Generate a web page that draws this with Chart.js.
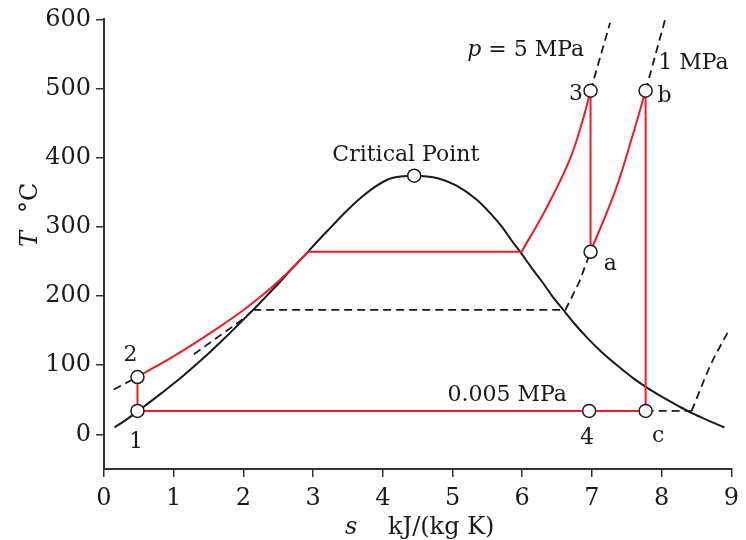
<!DOCTYPE html>
<html>
<head>
<meta charset="utf-8">
<script src="https://cdn.jsdelivr.net/npm/chart.js@4/dist/chart.umd.min.js"></script>
<style>
  body { margin: 0; background: #fff; }
  canvas { display: block; }
</style>
</head>
<body>
<canvas id="ts-chart" width="746" height="540"></canvas>
<script>
// axis ticks
const sTicks = [0, 1, 2, 3, 4, 5, 6, 7, 8, 9];
const tTicks = [0, 100, 200, 300, 400, 500, 600];

// saturation dome [s, T]
const domeLiquid = [[0.15,10],[0.30,20],[0.44,30],[0.57,40],[0.83,60],[1.08,80],[1.31,100],[1.53,120],[1.74,140],[1.94,160],[2.14,180],[2.33,200],[2.52,220],[2.70,240],[2.89,260],[3.07,280],[3.26,300],[3.45,320],[3.66,340],[3.92,360],[4.11,370]];
const critical = [4.45, 374];
const domeVapour = [[4.80,370],[5.05,360],[5.34,340],[5.54,320],[5.71,300],[5.85,280],[6.00,260],[6.14,240],[6.29,220],[6.43,200],[6.59,180],[6.75,160],[6.93,140],[7.13,120],[7.36,100],[7.61,80],[7.91,60],[8.26,40],[8.45,30],[8.67,20],[8.90,10]];

// cycle (red)
const pumpLine   = [[0.48,34],[0.48,83]];
const heatLiquid = [[0.48,83],[1.08,118],[1.56,149],[2.03,182],[2.50,221],[2.93,264]];
const boilLine   = [[2.93,264],[5.99,264]];
const superheat  = [[5.99,264],[6.34,326],[6.68,397],[6.87,455],[6.98,497]];
const turbineHP  = [[6.98,497],[6.98,264]];
const reheat     = [[6.98,264],[7.34,354],[7.58,431],[7.77,497]];
const turbineLP  = [[7.77,497],[7.77,34]];
const condenser  = [[7.77,34],[0.48,34]];

// isobars (dashed)
const iso5Below  = [[0.14,65],[0.48,83]];
const iso1Liquid = [[1.29,116],[1.65,142],[2.03,170],[2.14,180]];
const iso1Sat    = [[2.14,180],[6.62,180],[6.82,221],[6.98,264]];
const iso5Above  = [[6.98,497],[7.26,595]];
const iso1Above  = [[7.77,497],[8.05,600]];
const iso005Flat = [[7.77,34],[8.43,34]];
const iso005Up   = [[8.43,34],[8.70,100],[8.95,148]];

// state points: 1, 2, 3, a, b, c, 4, critical
const statePoints = [[0.48,34],[0.48,83],[6.98,497],[6.98,264],[7.77,497],[7.77,34],[6.96,34], critical];

const SERIF = 'DejaVu Serif';
const RED = '#ee1c24';
const INK = '#1a1a1a';

// text labels, placed by [s, T] of their anchor
const notes = [
  { text: 'Critical Point', s: 4.33, t: 395, align: 'center' },
  { text: '1 MPa', s: 7.95, t: 529, align: 'left' },
  { text: '3', s: 6.87, t: 484, align: 'right' },
  { text: 'b', s: 7.94, t: 481, align: 'left' },
  { text: 'a', s: 7.17, t: 238, align: 'left' },
  { text: '2', s: 0.38, t: 106, align: 'center' },
  { text: '1', s: 0.46, t: -20, align: 'center' },
  { text: '4', s: 6.93, t: -14, align: 'center' },
  { text: 'c', s: 7.95, t: -11, align: 'center' },
  { text: '0.005 MPa', s: 6.64, t: 49, align: 'right' }
];

function pts(arr) {
  return arr.map(function(p) { return { x: p[0], y: p[1] }; });
}

function line(arr, color, extra) {
  return Object.assign({
    data: pts(arr),
    showLine: true,
    borderColor: color,
    borderWidth: 2,
    pointRadius: 0,
    fill: false,
    tension: 0
  }, extra || {});
}

const smooth = { cubicInterpolationMode: 'monotone' };
const bend = { tension: 0.4 };
const dashed = { borderDash: [8, 5], borderWidth: 1.8 };

const labelPlugin = {
  id: 'tsLabels',
  afterDraw(chart) {
    const ctx = chart.ctx;
    const x = chart.scales.x, y = chart.scales.y;
    ctx.save();
    ctx.fillStyle = INK;
    ctx.textBaseline = 'alphabetic';
    ctx.font = '22px "' + SERIF + '"';
    notes.forEach(function(n) {
      ctx.textAlign = n.align;
      ctx.fillText(n.text, x.getPixelForValue(n.s), y.getPixelForValue(n.t));
    });

    // p = 5 MPa (italic p)
    ctx.textAlign = 'left';
    let px = x.getPixelForValue(5.21), py = y.getPixelForValue(547);
    ctx.font = 'italic 22px "' + SERIF + '"';
    ctx.fillText('p', px, py);
    px += ctx.measureText('p').width;
    ctx.font = '22px "' + SERIF + '"';
    ctx.fillText(' = 5 MPa', px, py);

    // x title
    ctx.font = 'italic 24px "' + SERIF + '"';
    ctx.fillText('s', 345, 534);
    ctx.font = '24px "' + SERIF + '"';
    ctx.fillText('kJ/(kg K)', 388, 534);

    // y title, rotated
    ctx.translate(37, 213);
    ctx.rotate(-Math.PI / 2);
    ctx.font = 'italic 24px "' + SERIF + '"';
    ctx.fillText('T', -34, 0);
    ctx.font = '24px "' + SERIF + '"';
    ctx.fillText('\u00B0C', 0, 0);
    ctx.restore();
  }
};

const data = {
  datasets: [
    {
      data: pts(statePoints),
      pointRadius: 6.5,
      pointBackgroundColor: '#fff',
      pointBorderColor: INK,
      pointBorderWidth: 1.5,
      showLine: false
    },
    line(pumpLine, RED),
    line(heatLiquid, RED, bend),
    line(boilLine, RED),
    line(superheat, RED, bend),
    line(turbineHP, RED),
    line(reheat, RED, bend),
    line(turbineLP, RED),
    line(condenser, RED),
    line(domeLiquid.concat([critical], domeVapour), INK, smooth),
    line(iso5Below, INK, dashed),
    line(iso1Liquid, INK, Object.assign({}, dashed, smooth)),
    line(iso1Sat, INK, dashed),
    line(iso5Above, INK, dashed),
    line(iso1Above, INK, dashed),
    line(iso005Flat, INK, dashed),
    line(iso005Up, INK, Object.assign({}, dashed, smooth))
  ]
};

const axisFont = { family: SERIF, size: 24 };

const config = {
  type: 'scatter',
  data: data,
  options: {
    responsive: false,
    animation: false,
    layout: { padding: { top: 15, right: 9, left: 0, bottom: 0 } },
    plugins: {
      legend: { display: false },
      tooltip: { enabled: false }
    },
    scales: {
      x: {
        type: 'linear',
        min: 0,
        max: 9,
        afterBuildTicks: function(sc) { sc.ticks = sTicks.map(function(v) { return { value: v }; }); },
        afterFit: function(sc) { sc.height = 71; },
        grid: { drawOnChartArea: false, drawTicks: true, tickLength: 8, color: '#333', lineWidth: 1.5 },
        border: { display: true, color: '#333', width: 2 },
        ticks: { font: axisFont, color: INK, padding: 7, maxRotation: 0 }
      },
      y: {
        type: 'linear',
        min: -50,
        max: 600,
        afterBuildTicks: function(sc) { sc.ticks = tTicks.map(function(v) { return { value: v }; }); },
        afterFit: function(sc) { sc.width = 104; },
        grid: { drawOnChartArea: false, drawTicks: true, tickLength: 8, color: '#333', lineWidth: 1.5 },
        border: { display: true, color: '#333', width: 2 },
        ticks: { font: axisFont, color: INK, padding: 5 }
      }
    }
  },
  plugins: [labelPlugin]
};

new Chart(document.getElementById('ts-chart'), config);
</script>
</body>
</html>
